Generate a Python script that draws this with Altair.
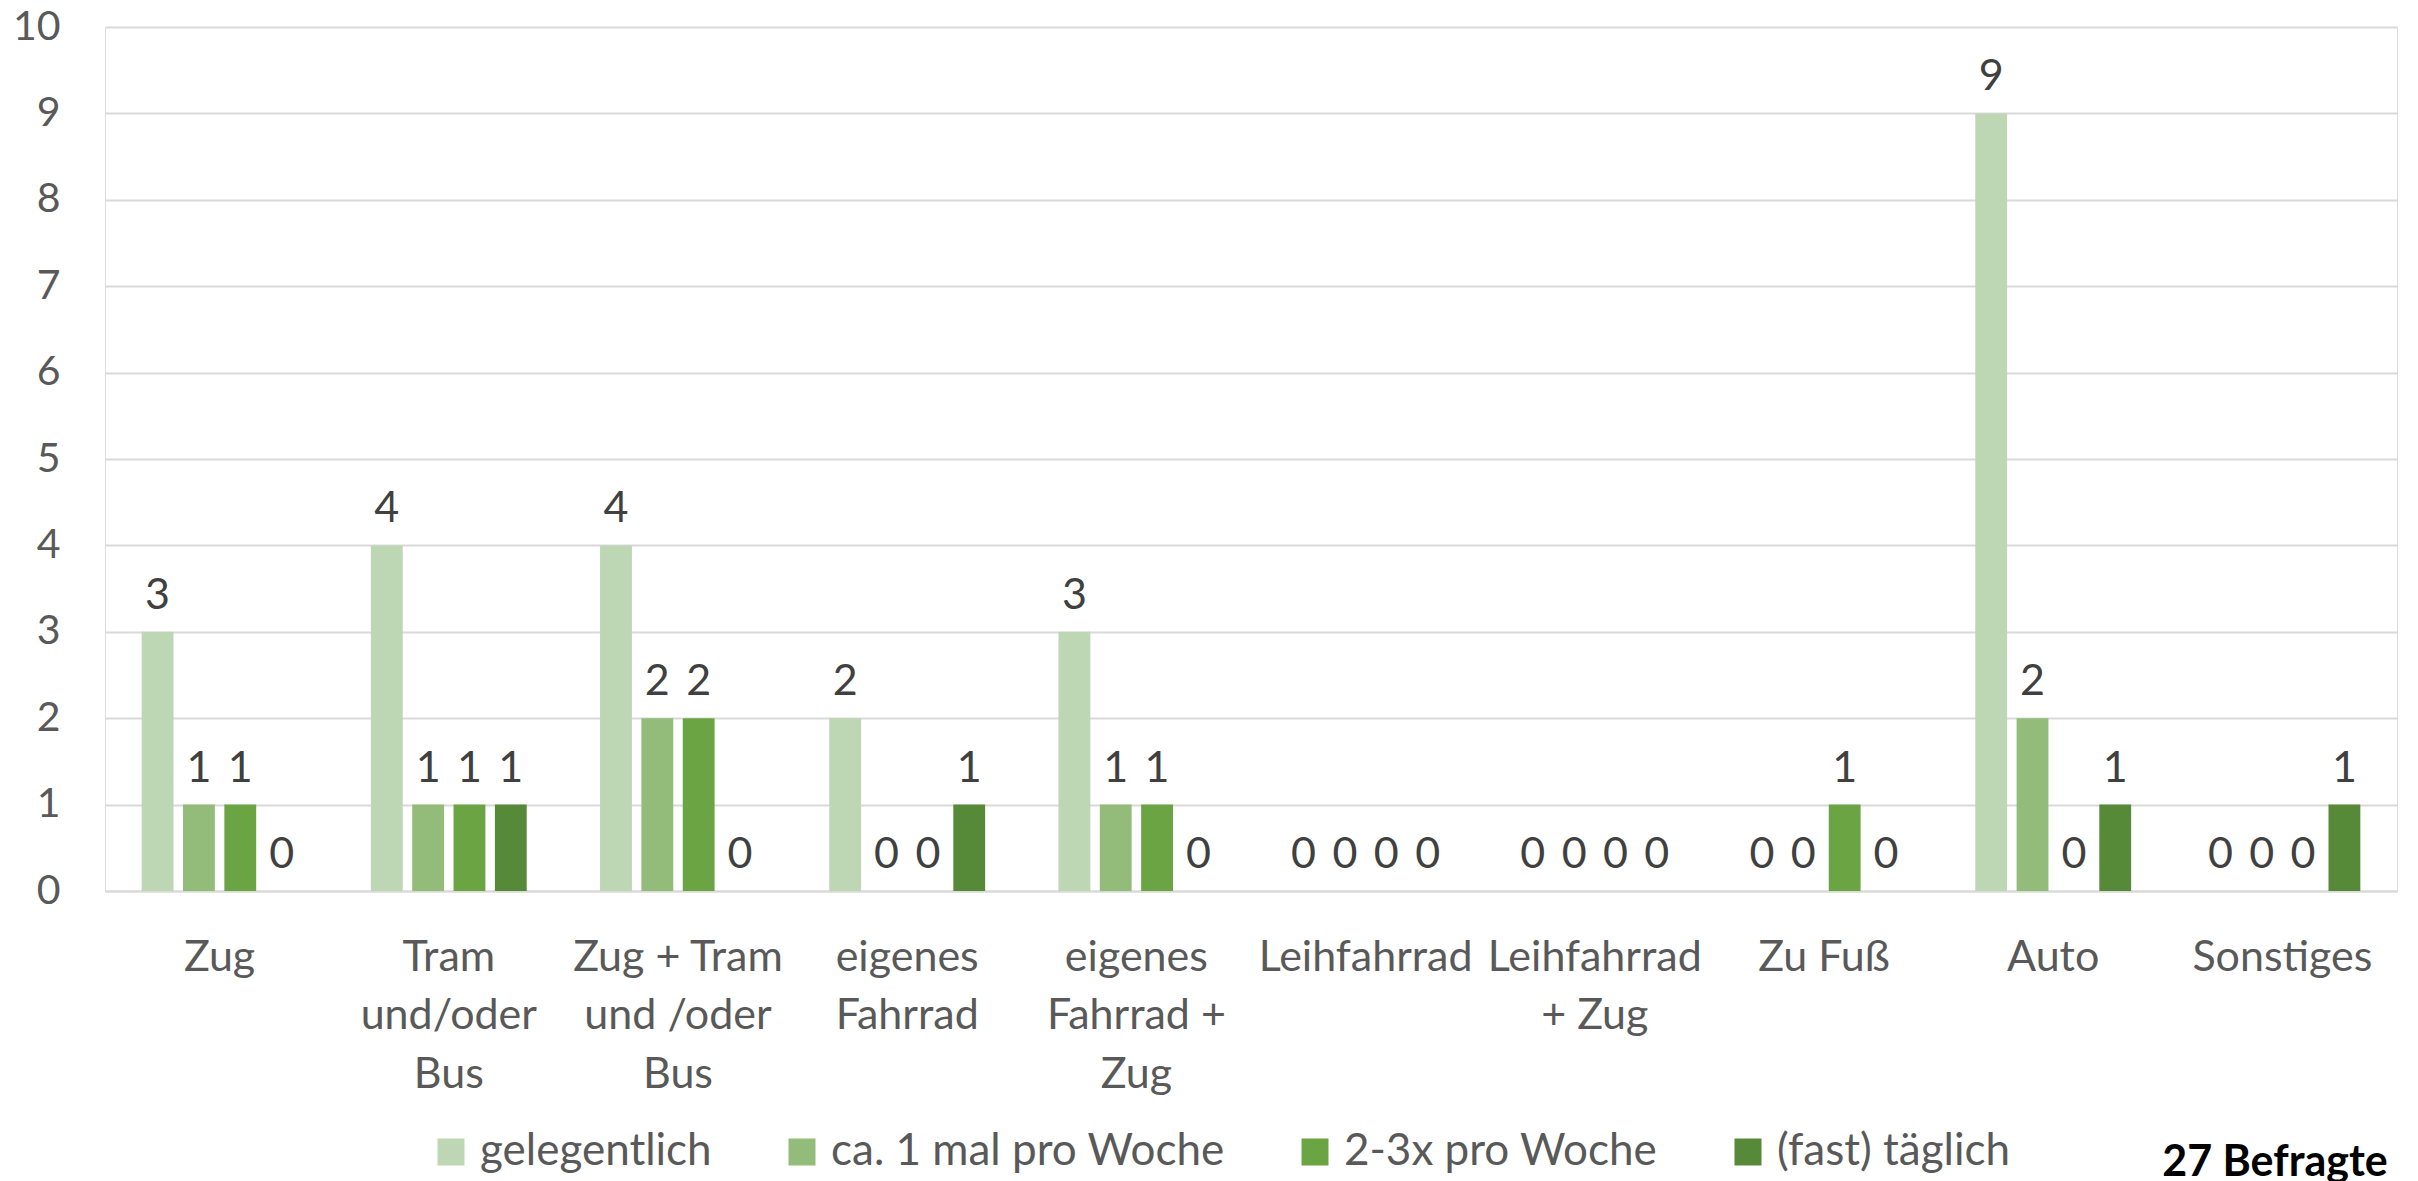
import altair as alt
import pandas as pd

categories = [
    "Zug",
    "Tram\nund/oder\nBus",
    "Zug + Tram\nund /oder\nBus",
    "eigenes\nFahrrad",
    "eigenes\nFahrrad +\nZug",
    "Leihfahrrad",
    "Leihfahrrad\n+ Zug",
    "Zu Fuß",
    "Auto",
    "Sonstiges",
]
series = ["gelegentlich", "ca. 1 mal pro Woche", "2-3x pro Woche", "(fast) täglich"]
gelegentlich = [3, 4, 4, 2, 3, 0, 0, 0, 9, 0]
ca_1_mal_pro_woche = [1, 1, 2, 0, 1, 0, 0, 0, 2, 0]
zwei_drei_pro_woche = [1, 1, 2, 0, 1, 0, 0, 1, 0, 0]
fast_taeglich = [0, 1, 0, 1, 0, 0, 0, 0, 1, 1]
colors = ["#BDD6B3", "#93BC7B", "#6AA443", "#578A38"]
note = ["27 Befragte"]

values_by_series = [gelegentlich, ca_1_mal_pro_woche, zwei_drei_pro_woche, fast_taeglich]
rows = []
for s, vals in zip(series, values_by_series):
    for c, v in zip(categories, vals):
        rows.append({"Kategorie": c, "Serie": s, "Anzahl": v})
df = pd.DataFrame(rows)

FONT = "Lato"
FS = 43

base = alt.Chart(df).encode(
    x=alt.X(
        "Kategorie:N",
        sort=categories,
        scale=alt.Scale(paddingInner=0.32, paddingOuter=0.16),
        axis=alt.Axis(
            title=None,
            labelAngle=0,
            labelExpr="split(datum.label, '\\n')",
            labelFont=FONT,
            labelFontSize=FS,
            labelColor="#595959",
            labelPadding=45,
            labelLineHeight=58.7,
            labelBaseline="top",
            labelLimit=400,
            labelOverlap=False,
            labelBound=False,
            ticks=False,
            domain=True,
            domainColor="#D9D9D9",
            domainWidth=2,
            grid=False,
        ),
    ),
    xOffset=alt.XOffset(
        "Serie:N", sort=series, scale=alt.Scale(paddingInner=0.23, paddingOuter=0)
    ),
    y=alt.Y(
        "Anzahl:Q",
        scale=alt.Scale(domain=[0, 10], nice=False),
        axis=alt.Axis(
            title=None,
            values=list(range(0, 11)),
            format="d",
            labelFont=FONT,
            labelFontSize=41,
            labelColor="#595959",
            labelPadding=45,
            domain=False,
            ticks=False,
            grid=True,
            gridColor="#D9D9D9",
            gridWidth=2,
        ),
    ),
)

bars = base.mark_bar().encode(
    color=alt.Color(
        "Serie:N",
        sort=series,
        scale=alt.Scale(domain=series, range=colors),
        legend=alt.Legend(
            title=None,
            orient="none",
            legendX=324,
            legendY=1103,
            direction="horizontal",
            columns=4,
            symbolType="square",
            symbolSize=729,
            symbolStrokeWidth=0,
            labelFont=FONT,
            labelFontSize=44,
            labelColor="#595959",
            labelOffset=7,
            columnPadding=68,
            labelLimit=0,
        ),
    )
)

labels = base.mark_text(
    baseline="alphabetic", dy=-23, fontSize=FS, font=FONT, color="#404040"
).encode(text=alt.Text("Anzahl:Q", format="d"))

annot = (
    alt.Chart(pd.DataFrame({"t": note}))
    .mark_text(
        align="center",
        baseline="alphabetic",
        fontSize=43,
        fontWeight="bold",
        font=FONT,
        color="#000000",
    )
    .encode(x=alt.value(2170), y=alt.value(1149), text="t:N")
)

chart = (
    alt.layer(bars, labels, annot)
    .properties(
        width=2292,
        height=864,
        autosize=alt.AutoSizeParams(type="none"),
        padding={"left": 97, "top": 19, "right": 13, "bottom": 300},
    )
    .configure_view(stroke=None)
    .configure(background="white")
)

chart.save("out.html", embed_options={"renderer": "svg", "actions": False})
